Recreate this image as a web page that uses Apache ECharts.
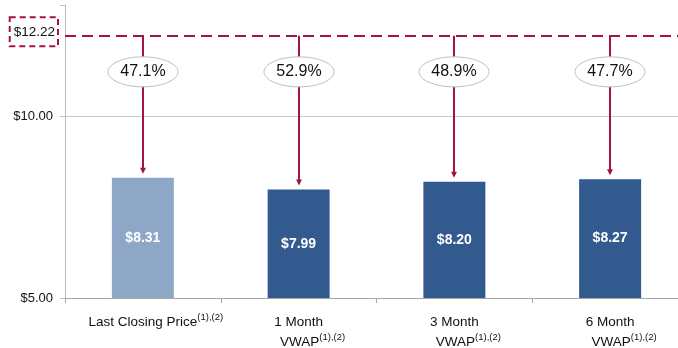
<!DOCTYPE html>
<html>
<head>
<meta charset="utf-8">
<script src="https://cdn.jsdelivr.net/npm/echarts@6/dist/echarts.min.js"></script>
<style>html,body{margin:0;padding:0;background:#fff;}#c{width:678px;height:348px;}</style>
</head>
<body>
<div id="c"></div>
<script>
const categories = ['Last Closing Price', '1 Month', '3 Month', '6 Month'];
const values = [8.31, 7.99, 8.20, 8.27];
const premiums = ['47.1%', '52.9%', '48.9%', '47.7%'];
const offerPrice = 12.22;
const yTicks = [5, 10];

const RED = '#A3153F';
const LIGHT = '#8FA7C7';
const DARK = '#325A8F';
const FONT = '"Liberation Sans", Arial, sans-serif';

const chart = echarts.init(document.getElementById('c'));

const labelFor = (i) => {
  if (i === 0) return '{pad0|}' + categories[0] + '{sup|(1),(2)}';
  return categories[i] + '\n{pad|}VWAP{sup|(1),(2)}';
};

chart.setOption({
  animation: false,
  grid: { left: 65, top: 5, right: -10, bottom: 50, containLabel: false, outerBoundsMode: 'none' },
  xAxis: {
    type: 'category',
    data: categories,
    axisLine: { lineStyle: { color: '#A6A6A6', width: 1 } },
    axisTick: { show: true, length: 5, interval: 0, lineStyle: { color: '#A6A6A6' } },
    axisLabel: {
      interval: 0,
      margin: 14,
      color: '#111',
      fontFamily: FONT,
      fontSize: 13.5,
      lineHeight: 20,
      formatter: (v, i) => labelFor(i),
      rich: {
        pad0: { width: 26, fontSize: 13.5 },
        pad: { width: 28, fontSize: 13.5 },
        sup: { fontSize: 9.5, verticalAlign: 'top', lineHeight: 20, padding: [0, 0, 6, 0], fontFamily: FONT, color: '#111' }
      }
    }
  },
  yAxis: {
    type: 'value',
    min: 5,
    max: 13.07,
    interval: 5,
    axisLine: { show: true, lineStyle: { color: '#BFBFBF' } },
    axisTick: { show: true, length: 5, lineStyle: { color: '#BFBFBF' } },
    splitLine: { show: false },
    axisLabel: {
      margin: 12,
      color: '#111',
      fontFamily: FONT,
      fontSize: 13,
      formatter: (v) => yTicks.indexOf(v) >= 0 ? '$' + v.toFixed(2) : ''
    }
  },
  series: [
    {
      type: 'bar',
      barWidth: 62,
      data: values.map((v, i) => ({ value: v, itemStyle: { color: i === 0 ? LIGHT : DARK } })),
      label: {
        show: true,
        position: 'inside',
        color: '#fff',
        fontWeight: 'bold',
        fontSize: 14,
        fontFamily: FONT,
        formatter: (p) => '$' + p.value.toFixed(2)
      },
      markLine: {
        silent: true,
        symbol: 'none',
        data: [
          {
            yAxis: offerPrice,
            lineStyle: { color: RED, width: 2, type: [11, 6] },
            label: {
              show: true,
              position: 'start',
              distance: 7,
              offset: [0, -4],
              formatter: '$' + offerPrice.toFixed(2),
              color: '#111',
              fontSize: 13.5,
              fontFamily: FONT,
              borderColor: RED,
              borderWidth: 2,
              borderType: [6, 4],
              padding: [8, 3, 7, 4]
            }
          },
          {
            yAxis: 10,
            lineStyle: { color: '#C8C8C8', width: 1, type: 'solid' },
            label: { show: false }
          }
        ]
      },
      z: 2
    },
    {
      type: 'custom',
      data: values.map((v, i) => [i, v, offerPrice]),
      z: 5,
      renderItem: (params, api) => {
        const i = api.value(0);
        const top = api.coord([i, api.value(2)]);
        const bar = api.coord([i, api.value(1)]);
        const x = Math.round(top[0]);
        const tipY = bar[1] - 4;
        const cy = top[1] + 36;
        return {
          type: 'group',
          children: [
            { type: 'line', shape: { x1: x, y1: top[1], x2: x, y2: tipY - 5 }, style: { stroke: RED, lineWidth: 2 } },
            { type: 'polygon', shape: { points: [[x - 3, tipY - 6], [x + 3, tipY - 6], [x, tipY]] }, style: { fill: RED } },
            { type: 'ellipse', shape: { cx: x, cy: cy, rx: 35, ry: 15 }, style: { fill: '#fff', stroke: '#BDBDBD', lineWidth: 1 } },
            { type: 'text', x: x, y: cy, style: { text: premiums[i], fill: '#111', fontSize: 16, fontFamily: FONT, align: 'center', verticalAlign: 'middle' } }
          ]
        };
      }
    }
  ]
});
</script>
</body>
</html>
